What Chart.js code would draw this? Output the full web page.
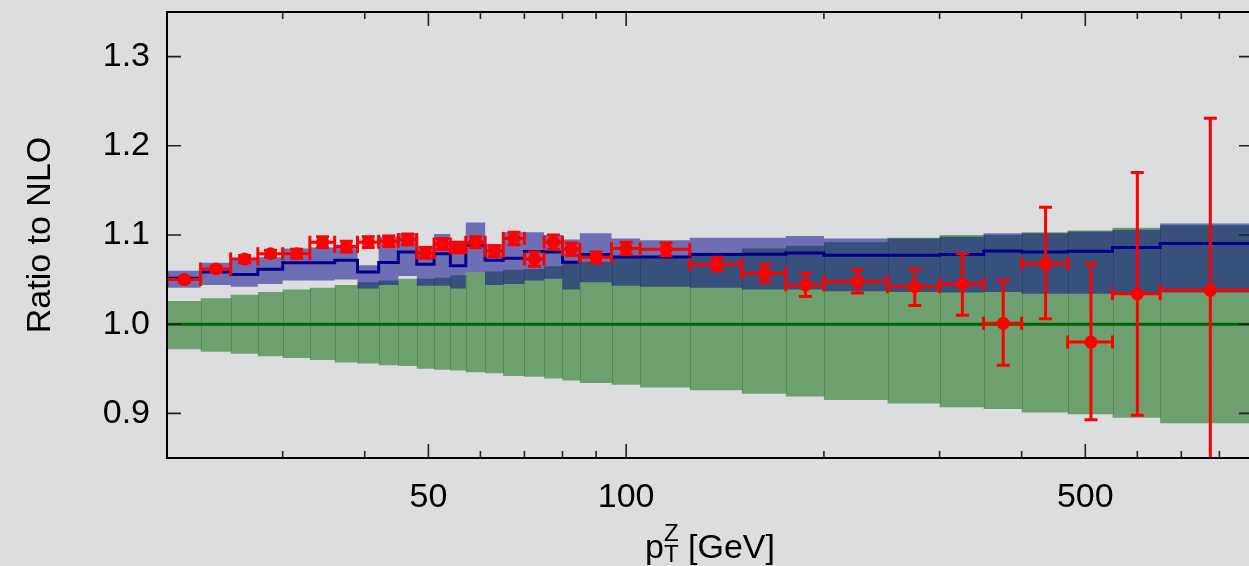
<!DOCTYPE html>
<html><head><meta charset="utf-8">
<script src="https://cdn.jsdelivr.net/npm/chart.js@4"></script>
<style>
html,body{margin:0;padding:0;background:#dcdddf;overflow:hidden;width:1249px;height:566px}
#wrap{position:absolute;left:0;top:0;width:1260px;height:566px}
canvas{display:block}
</style></head><body>
<div id="wrap"><canvas id="c" width="1260" height="566"></canvas></div>
<script>
// ---- data ----
const binEdges = [20,22.5,25,27.5,30,33,36,39,42,45,48,51,54,57,61,65,70,75,80,85,95,105,125,150,175,200,250,300,350,400,470,550,650,900];

// measured data / NLO (red points) and error bar ends
const dataVal = [1.050,1.062,1.073,1.079,1.079,1.092,1.087,1.092,1.093,1.095,1.080,1.090,1.086,1.092,1.082,1.096,1.073,1.092,1.084,1.075,1.085,1.084,1.067,1.057,1.044,1.048,1.042,1.045,1.001,1.068,0.980,1.034,1.038];
const dataLo  = [1.047,1.059,1.069,1.075,1.074,1.086,1.081,1.086,1.087,1.089,1.074,1.084,1.080,1.086,1.076,1.089,1.065,1.084,1.077,1.069,1.078,1.077,1.060,1.047,1.031,1.035,1.021,1.010,0.954,1.006,0.893,0.898,0.846];
const dataHi  = [1.053,1.065,1.077,1.083,1.084,1.098,1.093,1.098,1.099,1.101,1.086,1.096,1.092,1.098,1.088,1.103,1.081,1.100,1.091,1.081,1.092,1.091,1.075,1.067,1.057,1.061,1.062,1.079,1.049,1.131,1.068,1.170,1.231];

// NNLO / NLO central line and its band (blue)
const nnloRatio = [1.0515,1.0586,1.0557,1.0616,1.069,1.069,1.0717,1.0586,1.0691,1.081,1.0672,1.079,1.0654,1.0885,1.0717,1.074,1.0814,1.081,1.0695,1.078,1.0754,1.0754,1.078,1.0784,1.0799,1.0773,1.0773,1.078,1.082,1.081,1.0818,1.0859,1.0904];
const nnloHi = [1.060,1.069,1.074,1.075,1.085,1.086,1.088,1.066,1.098,1.102,1.088,1.101,1.093,1.114,1.090,1.103,1.103,1.100,1.095,1.102,1.096,1.094,1.097,1.097,1.099,1.096,1.096,1.098,1.102,1.102,1.104,1.106,1.113];
const nnloLo = [1.041,1.044,1.042,1.045,1.049,1.049,1.050,1.040,1.044,1.054,1.043,1.043,1.040,1.058,1.044,1.045,1.049,1.051,1.039,1.047,1.043,1.042,1.041,1.039,1.039,1.037,1.036,1.0355,1.036,1.034,1.034,1.034,1.0355];

// NLO reference (green line) and its band
const nloRatio = [1,1,1,1,1,1,1,1,1,1,1,1,1,1,1,1,1,1,1,1,1,1,1,1,1,1,1,1,1,1,1,1,1];
const nloHi = [1.026,1.029,1.033,1.036,1.039,1.041,1.044,1.047,1.049,1.051,1.051,1.052,1.055,1.058,1.059,1.061,1.062,1.065,1.069,1.070,1.074,1.074,1.080,1.085,1.088,1.092,1.097,1.100,1.100,1.103,1.105,1.108,1.111];
const nloLo = [0.972,0.969,0.967,0.964,0.962,0.960,0.957,0.956,0.954,0.953,0.950,0.949,0.948,0.946,0.945,0.942,0.941,0.939,0.937,0.934,0.932,0.929,0.926,0.922,0.919,0.915,0.911,0.907,0.905,0.901,0.899,0.895,0.889];

// axis ticks
const xLabelTicks = [50,100,500];
const xMinorTicks = [30,40,60,70,80,90,200,300,400,600,700,800];
const yTickValues = [0.9,1.0,1.1,1.2,1.3];

// ---- helpers building library tables ----
const FONT = '"Liberation Sans", Arial, Helvetica, sans-serif';
function stepData(vals){
  const pts = vals.map((v,i)=>({x:binEdges[i], y:v}));
  pts.push({x:binEdges[binEdges.length-1], y:vals[vals.length-1]});
  return pts;
}
const centers = dataVal.map((v,i)=>(binEdges[i]+binEdges[i+1])/2);
const pointData = dataVal.map((v,i)=>({x:centers[i], y:v}));

// faint seams between adjacent bins of the green band (as in the reference)
const seams = {
  id:'seams',
  afterDatasetDraw(chart, args){
    if(args.index!==5) return;
    const {ctx, scales:{x,y}} = chart;
    ctx.save();
    ctx.strokeStyle='rgba(0,90,0,0.28)'; ctx.lineWidth=1;
    ctx.beginPath();
    for(let i=1;i<nloHi.length;i++){
      const px=Math.round(x.getPixelForValue(binEdges[i]))+0.5;
      const top=y.getPixelForValue(Math.min(nloHi[i-1],nloHi[i]));
      const bot=y.getPixelForValue(Math.max(nloLo[i-1],nloLo[i]));
      ctx.moveTo(px,top); ctx.lineTo(px,bot);
    }
    ctx.stroke();
    ctx.restore();
  }
};

const errorBars = {
  id:'errorBars',
  afterDatasetsDraw(chart){
    const {ctx, chartArea:a, scales:{x,y}} = chart;
    ctx.save();
    ctx.beginPath(); ctx.rect(a.left,a.top,a.right-a.left,a.bottom-a.top); ctx.clip();
    ctx.strokeStyle='rgb(255,0,0)'; ctx.lineWidth=3; ctx.lineCap='butt';
    const cap=6.5;
    ctx.beginPath();
    for(let i=0;i<dataVal.length;i++){
      const x0=x.getPixelForValue(binEdges[i]), x1=x.getPixelForValue(binEdges[i+1]);
      const xc=x.getPixelForValue(centers[i]), yc=y.getPixelForValue(dataVal[i]);
      const yl=y.getPixelForValue(dataLo[i]), yh=y.getPixelForValue(dataHi[i]);
      ctx.moveTo(x0,yc); ctx.lineTo(x1,yc);
      ctx.moveTo(x0,yc-cap); ctx.lineTo(x0,yc+cap);
      ctx.moveTo(x1,yc-cap); ctx.lineTo(x1,yc+cap);
      ctx.moveTo(xc,yl); ctx.lineTo(xc,yh);
      ctx.moveTo(xc-cap,yl); ctx.lineTo(xc+cap,yl);
      ctx.moveTo(xc-cap,yh); ctx.lineTo(xc+cap,yh);
    }
    ctx.stroke();
    ctx.restore();
  }
};

const frame = {
  id:'frame',
  afterDraw(chart){
    const {ctx, chartArea:a, scales:{x,y}} = chart;
    ctx.save();
    ctx.strokeStyle='#222'; ctx.lineWidth=1.6;
    ctx.beginPath();
    yTickValues.forEach(v=>{
      const py=y.getPixelForValue(v);
      ctx.moveTo(a.left,py); ctx.lineTo(a.left+14,py);
      ctx.moveTo(a.right,py); ctx.lineTo(a.right-14,py);
    });
    xLabelTicks.forEach(v=>{
      const px=x.getPixelForValue(v);
      ctx.moveTo(px,a.bottom); ctx.lineTo(px,a.bottom-14);
      ctx.moveTo(px,a.top); ctx.lineTo(px,a.top+14);
    });
    xMinorTicks.forEach(v=>{
      const px=x.getPixelForValue(v);
      ctx.moveTo(px,a.bottom); ctx.lineTo(px,a.bottom-7);
      ctx.moveTo(px,a.top); ctx.lineTo(px,a.top+7);
    });
    ctx.stroke();
    ctx.strokeStyle='#000'; ctx.lineWidth=2;
    ctx.strokeRect(a.left,a.top,a.right-a.left,a.bottom-a.top);

    // x-axis title p_T^Z [GeV]
    const big='34px '+FONT, small='24px '+FONT;
    ctx.fillStyle='#000'; ctx.textAlign='left'; ctx.textBaseline='alphabetic';
    ctx.font=big; const wp=ctx.measureText('p').width, wr=ctx.measureText(' [GeV]').width;
    ctx.font=small; const wz=Math.max(ctx.measureText('Z').width, ctx.measureText('T').width);
    const sx=(a.left+a.right)/2-(wp+wz+wr)/2, base=a.bottom+100;
    ctx.font=big; ctx.fillText('p',sx,base);
    ctx.font=small; ctx.fillText('Z',sx+wp,base-17); ctx.fillText('T',sx+wp,base+4);
    ctx.font=big; ctx.fillText(' [GeV]',sx+wp+wz,base);
    ctx.restore();
  }
};

const stepBase = {stepped:'before', pointRadius:0, tension:0, borderWidth:0, borderColor:'rgba(0,0,0,0)'};

new Chart(document.getElementById('c'), {
  type:'line',
  data:{datasets:[
    {label:'data', data:pointData, showLine:false, pointRadius:6.5, pointBackgroundColor:'rgb(255,0,0)', pointBorderWidth:0, order:0},
    {label:'NNLO/NLO', data:stepData(nnloRatio), stepped:'before', pointRadius:0, borderColor:'#00008b', borderWidth:3, fill:false, order:1},
    {label:'NLO', data:stepData(nloRatio), stepped:'before', pointRadius:0, borderColor:'#006400', borderWidth:3, fill:false, order:2},
    Object.assign({label:'NNLO hi', data:stepData(nnloHi), fill:'+1', backgroundColor:'rgba(0,0,137,0.5)', order:3}, stepBase),
    Object.assign({label:'NNLO lo', data:stepData(nnloLo), fill:false, order:4}, stepBase),
    Object.assign({label:'NLO hi', data:stepData(nloHi), fill:'+1', backgroundColor:'rgba(0,100,0,0.5)', order:5}, stepBase),
    Object.assign({label:'NLO lo', data:stepData(nloLo), fill:false, order:6}, stepBase)
  ]},
  options:{
    responsive:false, devicePixelRatio:1, animation:false, events:[],
    layout:{padding:{top:12,right:7,bottom:0,left:0}},
    plugins:{legend:{display:false}, tooltip:{enabled:false}},
    scales:{
      x:{type:'logarithmic', min:20, max:900,
        afterBuildTicks:s=>{ s.ticks=[...xMinorTicks,...xLabelTicks].sort((a,b)=>a-b).map(v=>({value:v})); },
        afterFit:s=>{ s.height=108; s.paddingLeft=0; s.paddingRight=0; s.paddingTop=0; s.paddingBottom=0; },
        grid:{display:false, drawTicks:false}, border:{display:false},
        ticks:{autoSkip:false, maxRotation:0, minRotation:0, padding:19, color:'#000', font:{family:FONT,size:34},
          callback:v=>xLabelTicks.includes(v)?String(v):''}
      },
      y:{min:0.85, max:1.35,
        afterBuildTicks:s=>{ s.ticks=yTickValues.map(v=>({value:v})); },
        afterFit:s=>{ s.width=167; s.paddingTop=0; s.paddingBottom=0; s.paddingLeft=0; s.paddingRight=0; },
        grid:{display:false, drawTicks:false}, border:{display:false},
        ticks:{padding:17, color:'#000', font:{family:FONT,size:34}, callback:v=>v.toFixed(1)},
        title:{display:true, text:'Ratio to NLO', color:'#000', font:{family:FONT,size:34}, padding:{top:20,bottom:0}}
      }
    }
  },
  plugins:[seams, errorBars, frame]
});
</script>
</body></html>
